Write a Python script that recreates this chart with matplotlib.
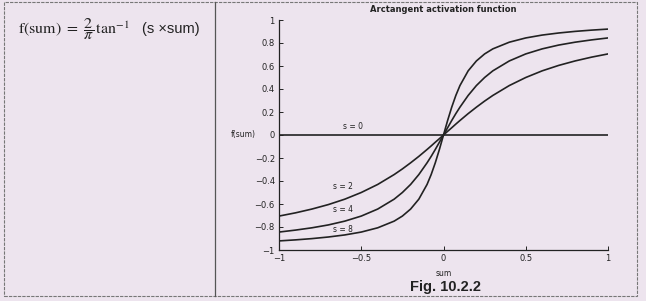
import matplotlib.pyplot as plt
from matplotlib.patches import Rectangle
from matplotlib.lines import Line2D

# values, f(sum) for s = 0, 2, 4, 8
sum_vals = [-1, -0.9, -0.8, -0.7, -0.6, -0.5, -0.4, -0.3, -0.25, -0.2, -0.15, -0.1,
            -0.075, -0.05, -0.025, 0, 0.025, 0.05, 0.075, 0.1, 0.15, 0.2, 0.25,
            0.3, 0.4, 0.5, 0.6, 0.7, 0.8, 0.9, 1]
f_s0 = [0] * 31
f_s2 = [-0.705, -0.677, -0.644, -0.605, -0.558, -0.500, -0.430, -0.344, -0.295,
        -0.242, -0.186, -0.126, -0.095, -0.063, -0.032, 0, 0.032, 0.063, 0.095,
        0.126, 0.186, 0.242, 0.295, 0.344, 0.430, 0.500, 0.558, 0.605, 0.644,
        0.677, 0.705]
f_s4 = [-0.844, -0.827, -0.807, -0.782, -0.749, -0.705, -0.644, -0.558, -0.500,
        -0.430, -0.344, -0.242, -0.186, -0.126, -0.063, 0, 0.063, 0.126, 0.186,
        0.242, 0.344, 0.430, 0.500, 0.558, 0.644, 0.705, 0.749, 0.782, 0.807,
        0.827, 0.844]
f_s8 = [-0.921, -0.912, -0.901, -0.887, -0.869, -0.844, -0.807, -0.749, -0.705,
        -0.644, -0.558, -0.430, -0.344, -0.242, -0.126, 0, 0.126, 0.242, 0.344,
        0.430, 0.558, 0.644, 0.705, 0.749, 0.807, 0.844, 0.869, 0.887, 0.901,
        0.912, 0.921]
curve_labels = ['s = 0', 's = 2', 's = 4', 's = 8']
label_pos = [(-0.55, 0.07), (-0.61, -0.45), (-0.61, -0.65), (-0.61, -0.82)]

x_ticks = [-1, -0.5, 0, 0.5, 1]
y_ticks = [-1, -0.8, -0.6, -0.4, -0.2, 0, 0.2, 0.4, 0.6, 0.8, 1]

bg = '#ede4ee'
ink = '#222222'

fig = plt.figure(figsize=(6.46, 3.01), dpi=100)
fig.patch.set_facecolor(bg)

# frame of the scanned figure box and the divider
fig.add_artist(Rectangle((4 / 646, 1 - 296 / 301), 633 / 646, 294 / 301,
                         transform=fig.transFigure, fill=False,
                         edgecolor='#777777', lw=0.8, ls=(0, (3, 1))))
fig.add_artist(Line2D([215 / 646, 215 / 646], [1 - 296 / 301, 1 - 2 / 301],
                      transform=fig.transFigure, color='#555555', lw=0.9))

# formula on the left
fig.text(18 / 646, 1 - 29 / 301,
         r'$\mathrm{f(sum)}\ =\ \dfrac{2}{\pi}\,\mathrm{tan}^{-1}$',
         fontsize=11.5, va='center', ha='left', color=ink,
         math_fontfamily='stix')
fig.text(142 / 646, 1 - 29 / 301, '(s \u00d7sum)', fontsize=10.5,
         va='center', ha='left', color=ink, family='Liberation Sans')

ax = fig.add_axes([279 / 646, 1 - 250 / 301, 329 / 646, 230 / 301])
ax.set_facecolor(bg)
for ys in [f_s0, f_s2, f_s4, f_s8]:
    ax.plot(sum_vals, ys, color=ink, lw=1.2)
for lab, (lx, ly) in zip(curve_labels, label_pos):
    ax.text(lx, ly, lab, fontsize=5.5, color=ink, ha='center', va='center')

ax.set_xlim(-1, 1)
ax.set_ylim(-1, 1)
ax.set_xticks(x_ticks)
ax.set_xticklabels([f'{v:g}'.replace('-', '\u2212') for v in x_ticks])
ax.set_yticks(y_ticks)
ax.set_yticklabels([f'{v:g}'.replace('-', '\u2212') for v in y_ticks])
ax.tick_params(direction='in', length=3, width=0.7, labelsize=6,
               colors=ink, pad=3)
for side in ['top', 'right']:
    ax.spines[side].set_visible(False)
for side in ['left', 'bottom']:
    ax.spines[side].set_linewidth(0.9)
    ax.spines[side].set_color(ink)

ax.set_title('Arctangent activation function', fontsize=6, fontweight='bold',
             color=ink, pad=6)
ax.set_xlabel('sum', fontsize=5.5, color=ink, labelpad=4)
ax.set_ylabel('f(sum)', fontsize=5.5, color=ink, rotation=0,
              ha='right', va='center')
ax.yaxis.set_label_coords(-0.07, 0.5)

fig.text(445 / 646, 1 - 287 / 301, 'Fig. 10.2.2', fontsize=10.5,
         fontweight='bold', ha='center', va='center', color=ink,
         family='Liberation Sans')

fig.savefig('out.png', dpi=100, facecolor=bg)
